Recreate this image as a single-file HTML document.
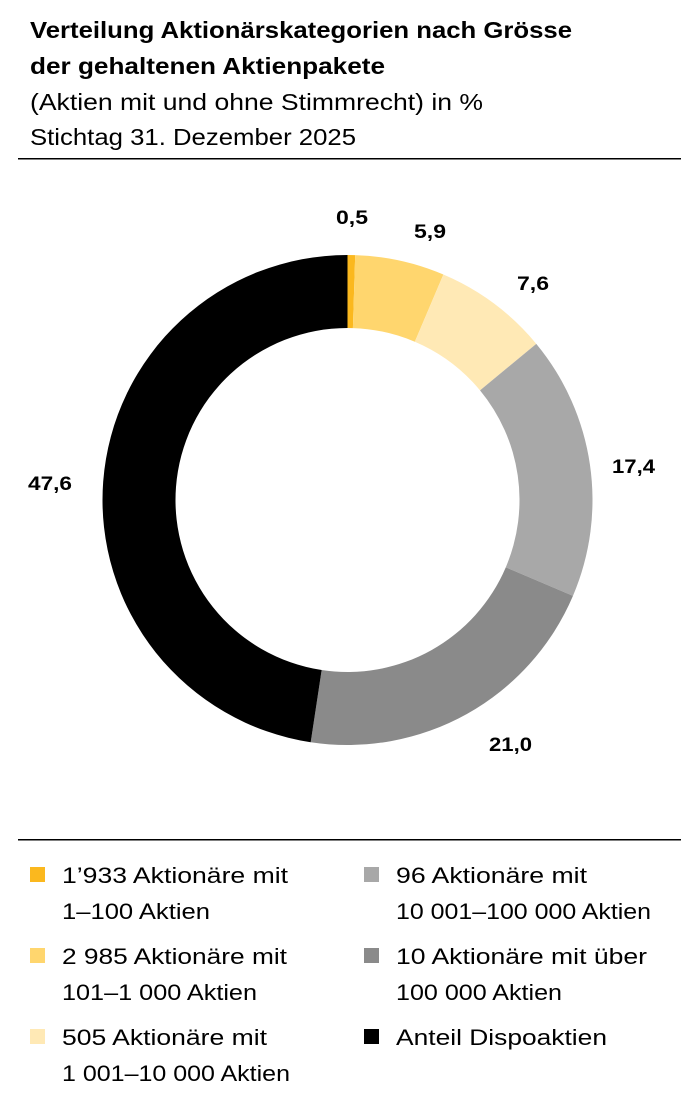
<!DOCTYPE html>
<html><head><meta charset="utf-8"><style>
html,body{margin:0;padding:0;background:#fff;}
svg{display:block;font-family:"Liberation Sans",sans-serif;}
</style></head><body>
<svg id="s" width="700" height="1118" viewBox="0 0 700 1118">
<text x="30" y="38" font-size="23" font-weight="bold" textLength="542" lengthAdjust="spacingAndGlyphs">Verteilung Aktionärskategorien nach Grösse</text>
<text x="30" y="74" font-size="23" font-weight="bold" textLength="355" lengthAdjust="spacingAndGlyphs">der gehaltenen Aktienpakete</text>
<text x="30" y="110" font-size="23" textLength="453" lengthAdjust="spacingAndGlyphs">(Aktien mit und ohne Stimmrecht) in %</text>
<text x="30" y="145" font-size="23" textLength="326" lengthAdjust="spacingAndGlyphs">Stichtag  31. Dezember 2025</text>
<rect x="18" y="158" width="663" height="1.5" fill="#000"/>
<rect x="18" y="839" width="663" height="1.5" fill="#000"/>
<g id="donut"></g>
<g font-size="19" font-weight="bold">
<text x="336" y="224" textLength="32" lengthAdjust="spacingAndGlyphs">0,5</text>
<text x="414" y="238" textLength="32" lengthAdjust="spacingAndGlyphs">5,9</text>
<text x="517" y="290" textLength="32" lengthAdjust="spacingAndGlyphs">7,6</text>
<text x="612" y="473" textLength="43" lengthAdjust="spacingAndGlyphs">17,4</text>
<text x="489" y="751" textLength="43" lengthAdjust="spacingAndGlyphs">21,0</text>
<text x="28" y="490" textLength="44" lengthAdjust="spacingAndGlyphs">47,6</text>
</g>
<g font-size="22">
<rect x="30" y="867" width="15" height="15" fill="#fbb81e"/>
<text x="62" y="883" textLength="226" lengthAdjust="spacingAndGlyphs">1’933 Aktionäre mit</text>
<text x="62" y="919" textLength="148" lengthAdjust="spacingAndGlyphs">1–100 Aktien</text>
<rect x="30" y="948" width="15" height="15" fill="#ffd66e"/>
<text x="62" y="964" textLength="225" lengthAdjust="spacingAndGlyphs">2 985 Aktionäre mit</text>
<text x="62" y="1000" textLength="195" lengthAdjust="spacingAndGlyphs">101–1 000 Aktien</text>
<rect x="30" y="1029" width="15" height="15" fill="#ffe9b5"/>
<text x="62" y="1045" textLength="205" lengthAdjust="spacingAndGlyphs">505 Aktionäre mit</text>
<text x="62" y="1081" textLength="228" lengthAdjust="spacingAndGlyphs">1 001–10 000 Aktien</text>
<rect x="364" y="867" width="15" height="15" fill="#a8a8a8"/>
<text x="396" y="883" textLength="191" lengthAdjust="spacingAndGlyphs">96 Aktionäre mit</text>
<text x="396" y="919" textLength="255" lengthAdjust="spacingAndGlyphs">10 001–100 000 Aktien</text>
<rect x="364" y="948" width="15" height="15" fill="#8a8a8a"/>
<text x="396" y="964" textLength="251" lengthAdjust="spacingAndGlyphs">10 Aktionäre mit über</text>
<text x="396" y="1000" textLength="166" lengthAdjust="spacingAndGlyphs">100 000 Aktien</text>
<rect x="364" y="1029" width="15" height="15" fill="#000"/>
<text x="396" y="1045" textLength="211" lengthAdjust="spacingAndGlyphs">Anteil Dispoaktien</text>
</g>
</svg>
<script>
var cx=347.5,cy=500,R=245,r=172;
var v=[0.5,5.9,7.6,17.4,21.0,47.6],c=["#fbb81e","#ffd66e","#ffe9b5","#a8a8a8","#8a8a8a","#000"];
var g=document.getElementById("donut"),a=0,h="";
function p(rad,ang){return [cx+rad*Math.sin(ang),cy-rad*Math.cos(ang)];}
for(var i=0;i<v.length;i++){
 var a0=a/100*2*Math.PI;a+=v[i];var a1=a/100*2*Math.PI;
 var L=(a1-a0)>Math.PI?1:0;
 var o0=p(R,a0),o1=p(R,a1),i1=p(r,a1),i0=p(r,a0);
 h+='<path fill="'+c[i]+'" d="M'+o0+' A'+R+' '+R+' 0 '+L+' 1 '+o1+' L'+i1+' A'+r+' '+r+' 0 '+L+' 0 '+i0+' Z"/>';
}
g.innerHTML=h;
</script>
</body></html>
